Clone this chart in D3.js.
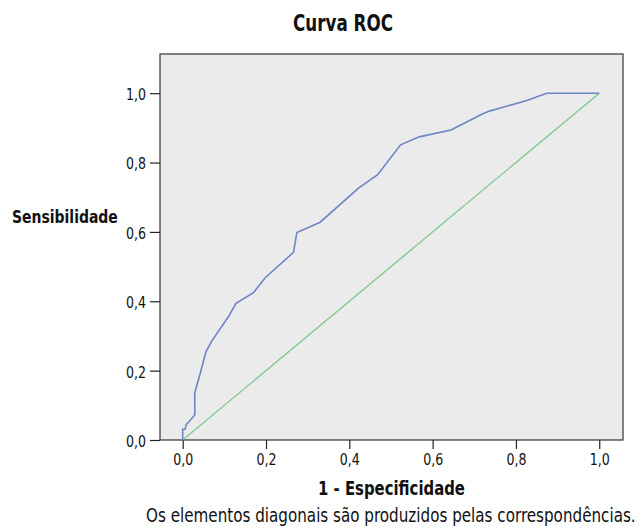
<!DOCTYPE html>
<html>
<head>
<meta charset="utf-8">
<script src="https://cdn.jsdelivr.net/npm/d3@7"></script>
<style>
  body { margin: 0; background: #fff; }
  text { font-family: "DejaVu Sans", "Liberation Sans", sans-serif; font-stretch: condensed; fill: #111; }
</style>
</head>
<body>
<script>
// chart data
const rocX = [0, 0, 0.006, 0.008, 0.029, 0.029, 0.042, 0.056, 0.070, 0.110, 0.128, 0.170, 0.198, 0.266, 0.274, 0.330, 0.422, 0.468, 0.523, 0.568, 0.644, 0.718, 0.738, 0.826, 0.874, 1];
const rocY = [0, 0.031, 0.031, 0.043, 0.072, 0.137, 0.192, 0.255, 0.286, 0.356, 0.394, 0.425, 0.468, 0.541, 0.598, 0.628, 0.726, 0.765, 0.851, 0.874, 0.894, 0.939, 0.949, 0.979, 1, 1];
const refX = [0, 1];
const refY = [0, 1];
const ticks = [0, 0.2, 0.4, 0.6, 0.8, 1.0];

const width = 644;
const height = 531;

// plot frame
const frameLeft = 160, frameRight = 623, frameTop = 54, frameBottom = 440;

const x = d3.scaleLinear()
    .domain([-0.0545, 1.057])
    .range([frameLeft, frameRight]);

const y = d3.scaleLinear()
    .domain([0, 1.113])
    .range([frameBottom, frameTop]);

const fmt = d => d3.format(".1f")(d).replace(".", ",");

const svg = d3.select("body")
    .append("svg")
    .attr("width", width)
    .attr("height", height);

svg.append("rect")
    .attr("x", frameLeft)
    .attr("y", frameTop)
    .attr("width", frameRight - frameLeft)
    .attr("height", frameBottom - frameTop)
    .attr("fill", "#ebebeb")
    .attr("stroke", "#333")
    .attr("stroke-width", 1.2);

// squeeze a text horizontally to a given width (condensed look)
function squeeze(sel, len, anchorX) {
    sel.each(function() {
        const t = d3.select(this);
        const w = this.getComputedTextLength();
        const k = len / w;
        const ax = anchorX != null ? anchorX : +t.attr("x") || 0;
        t.attr("transform", `translate(${ax},0) scale(${k},1) translate(${-ax},0)`);
    });
}

// axes
const xAxis = svg.append("g")
    .attr("transform", `translate(0,${frameBottom})`)
    .call(d3.axisBottom(x).tickValues(ticks).tickFormat(fmt).tickSize(9).tickSizeOuter(0));

const yAxis = svg.append("g")
    .attr("transform", `translate(${frameLeft},0)`)
    .call(d3.axisLeft(y).tickValues(ticks).tickFormat(fmt).tickSize(10).tickSizeOuter(0));

[xAxis, yAxis].forEach(a => {
    a.select(".domain").remove();
    a.selectAll("line").attr("stroke", "#222").attr("stroke-width", 1.2);
    a.selectAll("text")
        .style("font-size", "16px")
        .attr("fill", "#111");
});
xAxis.selectAll("text").attr("dy", 0).attr("y", 25);
yAxis.selectAll("text").attr("x", -14).attr("dy", "0.4em");
squeeze(xAxis.selectAll("text"), 20, 0);
squeeze(yAxis.selectAll("text"), 20, -14);

// lines
const line = d3.line()
    .x(d => x(d[0]))
    .y(d => y(d[1]));

svg.append("path")
    .datum(d3.zip(refX, refY))
    .attr("fill", "none")
    .attr("stroke", "#7cc98c")
    .attr("stroke-width", 1.3)
    .attr("d", line);

svg.append("path")
    .datum(d3.zip(rocX, rocY))
    .attr("fill", "none")
    .attr("stroke", "#6f84c6")
    .attr("stroke-width", 1.6)
    .attr("d", line);

// titles
function label(txt, px, py, size, bold, len, anchor) {
    const t = svg.append("text")
        .attr("x", px)
        .attr("y", py)
        .attr("text-anchor", anchor)
        .style("font-size", size + "px")
        .style("font-weight", bold ? "bold" : "normal")
        .text(txt);
    squeeze(t, len, px);
}

label("Curva ROC", 343, 31, 23, true, 100, "middle");
label("Sensibilidade", 12, 223, 18, true, 106, "start");
label("1 - Especificidade", 391.5, 495, 20, true, 147, "middle");
label("Os elementos diagonais são produzidos pelas correspondências.", 146, 522, 19, false, 490, "start");
</script>
</body>
</html>
